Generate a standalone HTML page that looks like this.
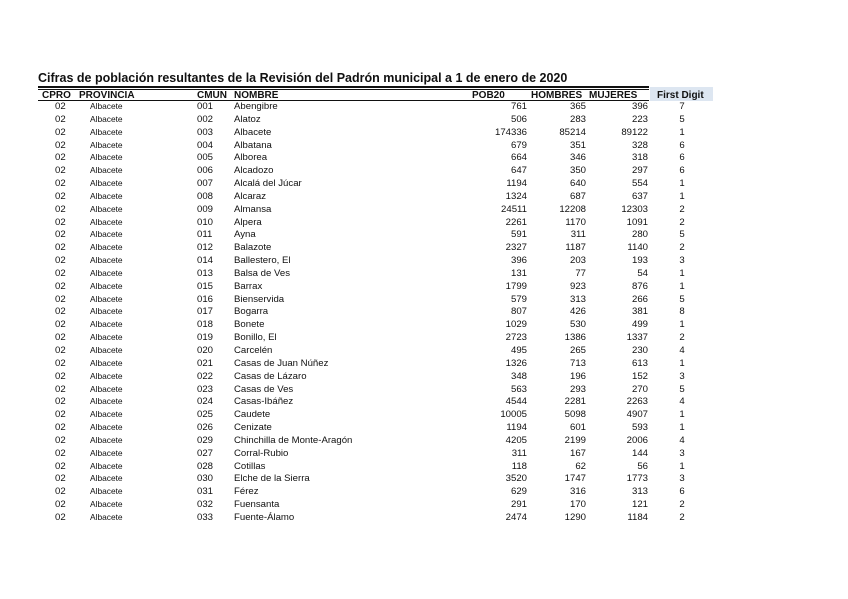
<!DOCTYPE html>
<html><head><meta charset="utf-8"><style>
body{margin:0;width:848px;height:599px;background:#fff;position:relative;overflow:hidden;font-family:"Liberation Sans",sans-serif;color:#111}
.t{position:absolute;left:38px;top:71px;font-size:12.5px;font-weight:bold;white-space:nowrap}
.h{position:absolute;top:90px;font-size:10px;font-weight:bold;white-space:nowrap;line-height:11px}
.r{position:absolute;left:0;width:848px;height:13px;font-size:9.6px;line-height:13px}
.r span{position:absolute;white-space:nowrap}
.c1{left:55px}.c2{left:90px;font-size:8.4px}.c3{left:197px}.c4{left:234px}
.c5{right:321px}.c6{right:262px}.c7{right:200px}.c8{left:672px;width:20px;text-align:center}
</style></head><body>
<div class="t">Cifras de población resultantes de la Revisión del Padrón municipal a 1 de enero de 2020</div>
<div style="position:absolute;left:38px;top:86px;width:611px;height:2px;background:#111"></div>
<div style="position:absolute;left:38px;top:89px;width:611px;height:1px;background:#111"></div>
<div style="position:absolute;left:38px;top:100px;width:611px;height:1px;background:#111"></div>
<div style="position:absolute;left:650px;top:87px;width:63px;height:14px;background:#dde6f1"></div>
<div class="h" style="left:42px">CPRO</div>
<div class="h" style="left:79px">PROVINCIA</div>
<div class="h" style="left:197px">CMUN</div>
<div class="h" style="left:234px">NOMBRE</div>
<div class="h" style="left:472px">POB20</div>
<div class="h" style="left:531px">HOMBRES</div>
<div class="h" style="left:589px">MUJERES</div>
<div class="h" style="left:657px">First Digit</div>
<div id="rows"></div>
<script>
var d=[["001","Abengibre",761,365,396,7],["002","Alatoz",506,283,223,5],["003","Albacete",174336,85214,89122,1],["004","Albatana",679,351,328,6],["005","Alborea",664,346,318,6],["006","Alcadozo",647,350,297,6],["007","Alcalá del Júcar",1194,640,554,1],["008","Alcaraz",1324,687,637,1],["009","Almansa",24511,12208,12303,2],["010","Alpera",2261,1170,1091,2],["011","Ayna",591,311,280,5],["012","Balazote",2327,1187,1140,2],["014","Ballestero, El",396,203,193,3],["013","Balsa de Ves",131,77,54,1],["015","Barrax",1799,923,876,1],["016","Bienservida",579,313,266,5],["017","Bogarra",807,426,381,8],["018","Bonete",1029,530,499,1],["019","Bonillo, El",2723,1386,1337,2],["020","Carcelén",495,265,230,4],["021","Casas de Juan Núñez",1326,713,613,1],["022","Casas de Lázaro",348,196,152,3],["023","Casas de Ves",563,293,270,5],["024","Casas-Ibáñez",4544,2281,2263,4],["025","Caudete",10005,5098,4907,1],["026","Cenizate",1194,601,593,1],["029","Chinchilla de Monte-Aragón",4205,2199,2006,4],["027","Corral-Rubio",311,167,144,3],["028","Cotillas",118,62,56,1],["030","Elche de la Sierra",3520,1747,1773,3],["031","Férez",629,316,313,6],["032","Fuensanta",291,170,121,2],["033","Fuente-Álamo",2474,1290,1184,2]];
var h="";
for(var i=0;i<d.length;i++){var r=d[i];var y=100+i*12.84;
h+='<div class="r" style="top:'+y.toFixed(1)+'px"><span class="c1">02</span><span class="c2">Albacete</span><span class="c3">'+r[0]+'</span><span class="c4">'+r[1]+'</span><span class="c5">'+r[2]+'</span><span class="c6">'+r[3]+'</span><span class="c7">'+r[4]+'</span><span class="c8">'+r[5]+'</span></div>';}
document.getElementById("rows").innerHTML=h;
</script>
</body></html>
